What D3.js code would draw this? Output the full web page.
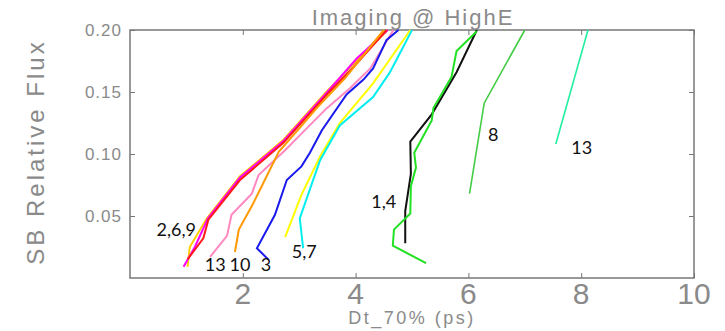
<!DOCTYPE html>
<html>
<head>
<meta charset="utf-8">
<script src="https://cdn.jsdelivr.net/npm/d3@7"></script>
<style>
    body { margin: 0; background: #fff; }
    text { font-family: "Liberation Sans", "DejaVu Sans", sans-serif; }
</style>
</head>
<body>
<script>
// x = Dt_70% (ps), y = SB relative flux
var curveNames = ["9", "6", "2", "13", "10", "3", "5", "7", "1", "4", "8", "13b"];
var curveColors = ["#ffcc00", "#ff00ff", "#ff1a1a", "#ff88c0", "#ff9900", "#1a1aee",
                   "#ffff00", "#00eeee", "#111111", "#22e022", "#44cc44", "#22eea0"];

var curveX = [
    [1.02, 1.06, 1.36, 1.95, 2.71, 3.48, 3.99, 4.57],
    [0.95, 1.15, 1.38, 1.95, 2.71, 3.48, 4.02, 4.57],
    [1.02, 1.30, 1.39, 1.95, 2.72, 3.49, 3.96, 4.55],
    [1.42, 1.72, 1.80, 2.16, 2.28, 2.75, 3.01, 3.49, 3.90, 4.26, 4.67],
    [1.86, 1.93, 2.16, 2.39, 2.64, 3.01, 3.31, 3.81, 4.50],
    [2.45, 2.25, 2.57, 2.78, 3.04, 3.19, 3.40, 3.84, 4.14, 4.31, 4.55, 4.76],
    [2.75, 3.04, 3.37, 3.72, 4.31, 4.97],
    [3.07, 3.01, 3.37, 3.72, 4.31, 4.61, 5.00],
    [4.88, 4.88, 4.98, 4.97, 5.35, 5.79, 6.15],
    [5.25, 4.66, 4.68, 4.97, 4.98, 5.07, 5.04, 5.35, 5.38, 5.70, 5.79, 6.15],
    [6.02, 6.28, 7.00],
    [7.55, 8.12]
];
var curveY = [
    [0.009, 0.025, 0.048, 0.082, 0.111, 0.150, 0.174, 0.200],
    [0.009, 0.025, 0.048, 0.081, 0.110, 0.149, 0.177, 0.200],
    [0.015, 0.032, 0.047, 0.079, 0.109, 0.148, 0.170, 0.200],
    [0.017, 0.034, 0.051, 0.068, 0.083, 0.103, 0.115, 0.137, 0.153, 0.169, 0.200],
    [0.021, 0.039, 0.058, 0.079, 0.102, 0.121, 0.137, 0.161, 0.200],
    [0.015, 0.024, 0.051, 0.079, 0.090, 0.101, 0.119, 0.148, 0.160, 0.169, 0.192, 0.200],
    [0.033, 0.067, 0.098, 0.125, 0.157, 0.200],
    [0.024, 0.048, 0.095, 0.123, 0.146, 0.166, 0.200],
    [0.028, 0.054, 0.084, 0.110, 0.132, 0.166, 0.200],
    [0.012, 0.026, 0.039, 0.052, 0.074, 0.089, 0.101, 0.127, 0.137, 0.162, 0.183, 0.199],
    [0.068, 0.141, 0.200],
    [0.108, 0.200]
];

var labelText = ["2,6,9", "13", "10", "3", "5,7", "1,4", "8", "13"];
var labelX = [0.82, 1.51, 1.95, 2.41, 3.09, 4.50, 6.44, 8.01];
var labelY = [0.039, 0.0105, 0.0105, 0.0105, 0.021, 0.061, 0.115, 0.105];

var xTicks = [2, 4, 6, 8, 10];
var yTicks = [0.05, 0.10, 0.15, 0.20];

function init(){
    var w = 725;
    var h = 331;
    var left = 130, right = 694, top = 30, bottom = 278;

    var svg = d3.select("body")
                .append("svg")
                .attr("width", w)
                .attr("height", h);

    var xScale = d3.scaleLinear()
                    .domain([0, 10])
                    .range([left, right]);

    var yScale = d3.scaleLinear()
                    .domain([0, 0.20])
                    .range([bottom, top]);

    var axisColor = "#777";

    // frame
    svg.append("rect")
        .attr("x", left)
        .attr("y", top)
        .attr("width", right - left)
        .attr("height", bottom - top)
        .attr("fill", "none")
        .attr("stroke", axisColor)
        .attr("stroke-width", 1.5);

    // inward ticks on all four sides
    svg.append("g")
        .attr("transform", "translate(0," + bottom + ")")
        .call(d3.axisTop(xScale).tickValues(xTicks).tickSize(5).tickFormat(""))
        .call(function(g) { g.select(".domain").remove(); })
        .selectAll("line").attr("stroke", axisColor);
    svg.append("g")
        .attr("transform", "translate(0," + top + ")")
        .call(d3.axisBottom(xScale).tickValues(xTicks).tickSize(5).tickFormat(""))
        .call(function(g) { g.select(".domain").remove(); })
        .selectAll("line").attr("stroke", axisColor);
    svg.append("g")
        .attr("transform", "translate(" + left + ",0)")
        .call(d3.axisRight(yScale).tickValues(yTicks).tickSize(5).tickFormat(""))
        .call(function(g) { g.select(".domain").remove(); })
        .selectAll("line").attr("stroke", axisColor);
    svg.append("g")
        .attr("transform", "translate(" + right + ",0)")
        .call(d3.axisLeft(yScale).tickValues(yTicks).tickSize(5).tickFormat(""))
        .call(function(g) { g.select(".domain").remove(); })
        .selectAll("line").attr("stroke", axisColor);

    // tick labels
    svg.selectAll("text.xtick")
        .data(xTicks)
        .enter()
        .append("text")
        .attr("class", "xtick")
        .attr("x", function(d) { return xScale(d); })
        .attr("y", 304)
        .attr("text-anchor", "middle")
        .attr("font-size", 30)
        .attr("fill", "#8a8a8a")
        .text(function(d) { return d; });

    svg.selectAll("text.ytick")
        .data(yTicks)
        .enter()
        .append("text")
        .attr("class", "ytick")
        .attr("x", 122)
        .attr("y", function(d) { return yScale(d) + 6; })
        .attr("text-anchor", "end")
        .attr("font-size", 17)
        .attr("letter-spacing", 1)
        .attr("fill", "#8a8a8a")
        .text(function(d) { return d.toFixed(2); });

    // titles
    svg.append("text")
        .attr("x", 413)
        .attr("y", 25)
        .attr("text-anchor", "middle")
        .attr("font-size", 22)
        .attr("letter-spacing", 2)
        .attr("fill", "#8a8a8a")
        .text("Imaging @ HighE");

    svg.append("text")
        .attr("x", 412)
        .attr("y", 324)
        .attr("text-anchor", "middle")
        .attr("font-size", 18)
        .attr("letter-spacing", 2.5)
        .attr("fill", "#8a8a8a")
        .text("Dt_70% (ps)");

    svg.append("text")
        .attr("transform", "translate(44,152) rotate(-90)")
        .attr("text-anchor", "middle")
        .attr("font-size", 24)
        .attr("letter-spacing", 3)
        .attr("fill", "#8a8a8a")
        .text("SB Relative Flux");

    // curves
    var line = d3.line()
                .x(function(d) { return xScale(d[0]); })
                .y(function(d) { return yScale(d[1]); });

    var curves = curveNames.map(function(n, i) {
        return curveX[i].map(function(x, j) { return [x, curveY[i][j]]; });
    });

    svg.selectAll("path.curve")
        .data(curves)
        .enter()
        .append("path")
        .attr("class", "curve")
        .attr("d", line)
        .attr("fill", "none")
        .attr("stroke", function(d, i) { return curveColors[i]; })
        .attr("stroke-width", function(d, i) { return i >= 10 ? 1.6 : 2; });

    // curve labels
    svg.selectAll("text.lab")
        .data(labelText)
        .enter()
        .append("text")
        .attr("class", "lab")
        .attr("x", function(d, i) { return xScale(labelX[i]); })
        .attr("y", function(d, i) { return yScale(labelY[i]) + 6; })
        .attr("text-anchor", "middle")
        .attr("font-size", 18)
        .attr("fill", "#111")
        .style("font-family", "Lato, 'Open Sans', sans-serif")
        .text(function(d) { return d; });
}

window.onload = init;
</script>
</body>
</html>
